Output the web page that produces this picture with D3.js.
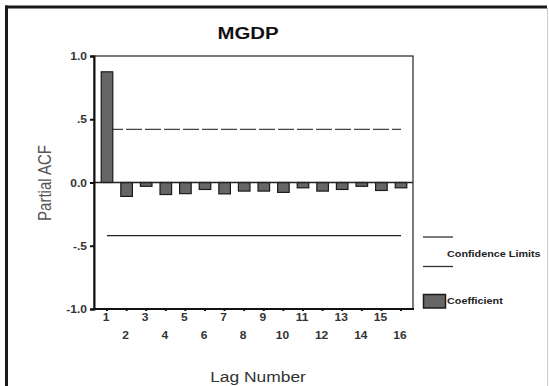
<!DOCTYPE html>
<html>
<head>
<meta charset="utf-8">
<script src="https://cdn.jsdelivr.net/npm/d3@7"></script>
<style>
  body { margin: 0; background: #fff; }
  svg { display: block; font-family: "Liberation Sans", Arial, sans-serif; }
</style>
</head>
<body>
<div id="chart"></div>
<script>
const width = 549,
  height = 386,
  plot = { left: 94, right: 413, top: 56, bottom: 309 },
  stretch = 1.2; // the picture is a bit wider than tall, text too

// data
const lags = d3.range(1, 17);
const pacf = [0.875, -0.11, -0.03, -0.095, -0.088, -0.055, -0.09, -0.068,
              -0.068, -0.078, -0.042, -0.068, -0.055, -0.03, -0.063, -0.042];
const confLimit = 0.42;
const yTicks = [1, 0.5, 0, -0.5, -1];
const yTickLabels = ["1.0", ".5", "0.0", "-.5", "-1.0"];

const svg = d3.select("#chart")
  .append("svg")
  .attr("width", width)
  .attr("height", height);

// outer frame (only left/top visible, right is faint)
svg.append("line")
  .attr("x1", 6.5).attr("x2", 6.5).attr("y1", 5.5).attr("y2", height)
  .attr("stroke", "#1a1a1a").attr("stroke-width", 3);
svg.append("line")
  .attr("x1", 5).attr("x2", 547).attr("y1", 7).attr("y2", 7)
  .attr("stroke", "#1a1a1a").attr("stroke-width", 3);
svg.append("line")
  .attr("x1", 547.5).attr("x2", 547.5).attr("y1", 8).attr("y2", height)
  .attr("stroke", "#ccc").attr("stroke-width", 1);

const xScale = d3.scaleBand()
  .domain(lags)
  .range([97.2, 410.8])
  .paddingInner(0.41)
  .paddingOuter(0.205);

const yScale = d3.scaleLinear()
  .domain([-1, 1])
  .range([plot.bottom, plot.top]);

const cx = d => xScale(d) + xScale.bandwidth() / 2;

function stretchedText(g, x, y, txt) {
  return g.append("text")
    .attr("transform", `translate(${x},${y}) scale(${stretch},1)`)
    .text(txt);
}

// plot frame
svg.append("rect")
  .attr("x", plot.left).attr("y", plot.top)
  .attr("width", plot.right - plot.left)
  .attr("height", plot.bottom - plot.top)
  .attr("fill", "none")
  .attr("stroke", "#333")
  .attr("stroke-width", 1.3);

// confidence limits
svg.append("line")
  .attr("x1", cx(1)).attr("x2", cx(16))
  .attr("y1", yScale(confLimit)).attr("y2", yScale(confLimit))
  .attr("stroke", "#444").attr("stroke-width", 1.3)
  .attr("stroke-dasharray", "16,3");
svg.append("line")
  .attr("x1", cx(1)).attr("x2", cx(16))
  .attr("y1", yScale(-confLimit)).attr("y2", yScale(-confLimit))
  .attr("stroke", "#222").attr("stroke-width", 1.4);

// bars
svg.selectAll(".bar")
  .data(lags)
  .join("rect")
  .attr("class", "bar")
  .attr("x", d => xScale(d))
  .attr("width", xScale.bandwidth())
  .attr("y", (d, i) => yScale(Math.max(0, pacf[i])))
  .attr("height", (d, i) => Math.abs(yScale(pacf[i]) - yScale(0)))
  .attr("fill", "#666")
  .attr("stroke", "#1a1a1a")
  .attr("stroke-width", 1.2);

// zero line
svg.append("line")
  .attr("x1", plot.left).attr("x2", plot.right)
  .attr("y1", yScale(0)).attr("y2", yScale(0))
  .attr("stroke", "#222").attr("stroke-width", 1.6);

// y axis
const yAxis = d3.axisLeft(yScale)
  .tickValues(yTicks)
  .tickSize(4)
  .tickFormat((d, i) => yTickLabels[i]);

const gy = svg.append("g")
  .attr("transform", `translate(${plot.left},0)`)
  .call(yAxis);
gy.select(".domain").attr("stroke", "#111").attr("stroke-width", 2);
gy.selectAll(".tick line").attr("stroke", "#111").attr("stroke-width", 2);
gy.selectAll(".tick text").remove();
gy.selectAll(".tick").each(function(d, i) {
  stretchedText(d3.select(this), -7, 3.5, yTickLabels[i])
    .attr("text-anchor", "end")
    .attr("font-size", 10)
    .attr("font-weight", "bold")
    .attr("fill", "#333");
});

// x axis
const xAxis = d3.axisBottom(xScale).tickSize(2);
const gx = svg.append("g")
  .attr("transform", `translate(0,${plot.bottom})`)
  .call(xAxis);
gx.select(".domain").remove();
gx.selectAll(".tick line").attr("stroke", "#111").attr("stroke-width", 2);
gx.selectAll(".tick text").remove();
gx.selectAll(".tick").each(function(d) {
  stretchedText(d3.select(this), -1, d % 2 === 1 ? 11.5 : 29.5, d)
    .attr("text-anchor", "middle")
    .attr("font-size", 10)
    .attr("font-weight", "bold")
    .attr("fill", "#333");
});
svg.append("line")
  .attr("x1", plot.left - 1).attr("x2", plot.right + 1)
  .attr("y1", plot.bottom).attr("y2", plot.bottom)
  .attr("stroke", "#111").attr("stroke-width", 2);

// title and axis labels
stretchedText(svg, 248, 39, "MGDP")
  .attr("text-anchor", "middle")
  .attr("font-size", 17)
  .attr("font-weight", "bold")
  .attr("fill", "#111");

stretchedText(svg, 258, 382, "Lag Number")
  .attr("text-anchor", "middle")
  .attr("font-size", 14.5)
  .attr("fill", "#333");

svg.append("text")
  .attr("transform", `translate(51,183) rotate(-90) scale(1,${stretch})`)
  .attr("text-anchor", "middle")
  .attr("font-size", 15)
  .attr("fill", "#555")
  .text("Partial ACF");

// legend
const legend = svg.append("g");
legend.selectAll(".legend-line")
  .data([237, 266.5])
  .join("line")
  .attr("class", "legend-line")
  .attr("x1", 423).attr("x2", 453)
  .attr("y1", d => d).attr("y2", d => d)
  .attr("stroke", "#333").attr("stroke-width", 1.3);
stretchedText(legend, 447, 257, "Confidence Limits")
  .attr("font-size", 9)
  .attr("font-weight", "bold")
  .attr("fill", "#222");
legend.append("rect")
  .attr("x", 423.5).attr("y", 294.5)
  .attr("width", 22).attr("height", 13.5)
  .attr("fill", "#666")
  .attr("stroke", "#1a1a1a")
  .attr("stroke-width", 1.5);
stretchedText(legend, 447, 304, "Coefficient")
  .attr("font-size", 9)
  .attr("font-weight", "bold")
  .attr("fill", "#222");
</script>
</body>
</html>
